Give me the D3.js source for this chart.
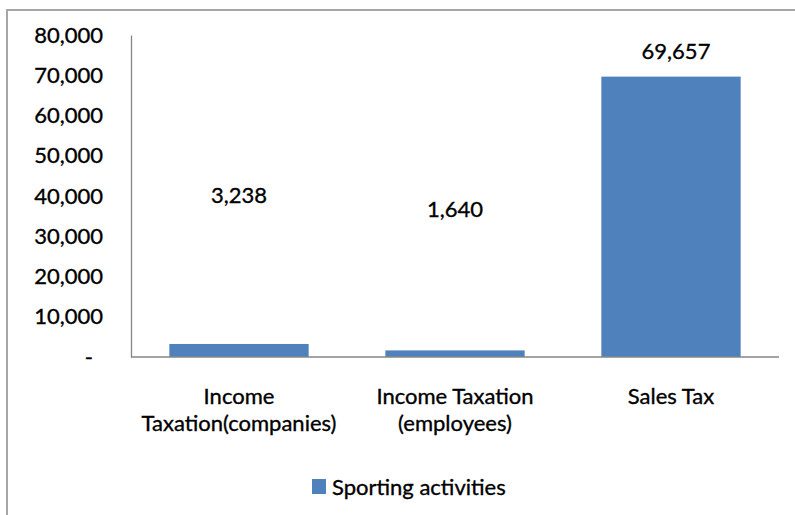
<!DOCTYPE html>
<html>
<head>
<meta charset="utf-8">
<script src="https://cdn.jsdelivr.net/npm/d3@7"></script>
<style>
  html, body { margin: 0; padding: 0; background: #fff; }
  svg { display: block; }
  text { font-family: Lato, "Open Sans", sans-serif; fill: #000; stroke: #000; stroke-width: 0.35px; }
</style>
</head>
<body>
<div id="chart"></div>
<script>
// Tax revenue from sporting activities, by tax type
const categories = [
  ["Income", "Taxation(companies)"],
  ["Income Taxation", "(employees)"],
  ["Sales Tax"]
];
const values = [3238, 1640, 69657];
const seriesName = "Sporting activities";
const yTicks = [0, 10000, 20000, 30000, 40000, 50000, 60000, 70000, 80000];

// How far above each bar top its value label sits (px)
const labelLift = [149, 141, 25];

const W = 795, H = 515;
const margin = { left: 131, right: 16, top: 35, bottom: 158 };
const fontSize = 22;
const barColor = "#4F81BD";
const axisColor = "#868686";

const svg = d3.select("#chart").append("svg")
  .attr("width", W).attr("height", H);

// chart area frame (right and bottom edges fall outside the view)
svg.append("rect")
  .attr("x", 7).attr("y", 10)
  .attr("width", W + 20).attr("height", H + 20)
  .attr("fill", "#fff")
  .attr("stroke", "#A6A6A6")
  .attr("stroke-width", 2);

const x = d3.scaleBand()
  .domain(d3.range(categories.length))
  .range([margin.left, W - margin.right])
  .paddingInner(0.355)
  .paddingOuter(0.1775);

const y = d3.scaleLinear()
  .domain([0, 80000])
  .range([H - margin.bottom, margin.top]);

const fmt = d3.format(",");

// y axis
const yAxis = svg.append("g")
  .attr("transform", `translate(${margin.left},0)`)
  .call(d3.axisLeft(y).tickValues(yTicks).tickSize(0).tickPadding(28)
    .tickFormat(d => d === 0 ? "-" : fmt(d)));
yAxis.select(".domain").attr("stroke", axisColor).attr("stroke-width", 1.3);
yAxis.selectAll("text")
  .attr("font-size", fontSize)
  .attr("font-family", "Lato, sans-serif")
  .attr("fill", "#000")
  .attr("dx", d => d === 0 ? -10 : 0);

// bars
svg.append("g").selectAll("rect")
  .data(values)
  .join("rect")
  .attr("x", (d, i) => x(i))
  .attr("y", d => y(d))
  .attr("width", x.bandwidth())
  .attr("height", d => y(0) - y(d))
  .attr("fill", barColor);

// x axis baseline
svg.append("line")
  .attr("x1", margin.left).attr("x2", W - margin.right)
  .attr("y1", y(0)).attr("y2", y(0))
  .attr("stroke", axisColor).attr("stroke-width", 1.3);

// value labels
svg.append("g").selectAll("text")
  .data(values)
  .join("text")
  .attr("x", (d, i) => x(i) + x.bandwidth() / 2 + (i === 2 ? 5 : 0))
  .attr("y", (d, i) => y(d) - labelLift[i])
  .attr("dy", "0.35em")
  .attr("text-anchor", "middle")
  .attr("font-size", fontSize)
  .text(d => fmt(d));

// category labels
const cat = svg.append("g").selectAll("text")
  .data(categories)
  .join("text")
  .attr("x", (d, i) => x(i) + x.bandwidth() / 2)
  .attr("y", y(0) + 39)
  .attr("dy", "0.35em")
  .attr("text-anchor", "middle")
  .attr("font-size", fontSize);
cat.selectAll("tspan")
  .data(d => d)
  .join("tspan")
  .attr("x", function () { return this.parentNode.getAttribute("x"); })
  .attr("dy", (d, i) => i === 0 ? "0.35em" : 27)
  .text(d => d);

// legend
const legend = svg.append("g").attr("transform", "translate(312,479)");
legend.append("rect")
  .attr("width", 14).attr("height", 15)
  .attr("fill", barColor);
legend.append("text")
  .attr("x", 20).attr("y", 8)
  .attr("dy", "0.35em")
  .attr("font-size", fontSize)
  .text(seriesName);
</script>
</body>
</html>
